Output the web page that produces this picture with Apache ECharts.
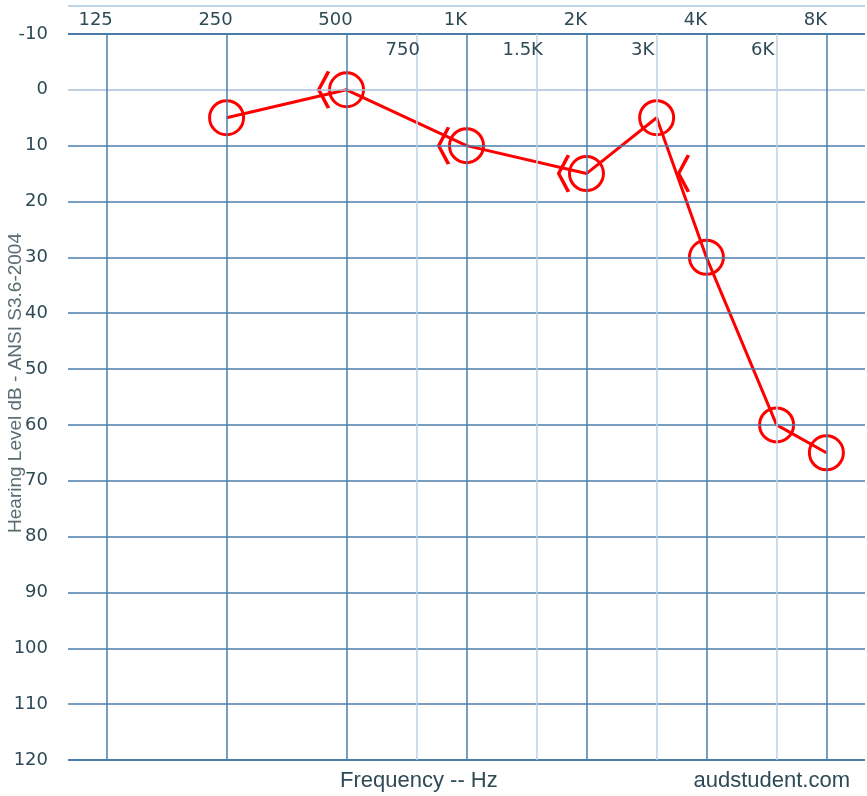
<!DOCTYPE html>
<html>
<head>
<meta charset="utf-8">
<script src="https://cdn.jsdelivr.net/npm/echarts@6/dist/echarts.min.js"></script>
<style>
html,body{margin:0;padding:0;background:#fff;}
#chart{width:867px;height:796px;}
</style>
</head>
<body>
<div id="chart"></div>
<script>
// ---- data ----
const octaveFreqs = [125, 250, 500, 1000, 2000, 4000, 8000];
const octaveLabels = ['125', '250', '500', '1K', '2K', '4K', '8K'];
const midFreqs = [750, 1500, 3000, 6000];
const midLabels = ['750', '1.5K', '3K', '6K'];
const dbLevels = [-10, 0, 10, 20, 30, 40, 50, 60, 70, 80, 90, 100, 110, 120];
const airFreqs = [250, 500, 1000, 2000, 3000, 4000, 6000, 8000];
const airDb = [5, 0, 10, 15, 5, 30, 60, 65];
const boneFreqs = [500, 1000, 2000, 4000];
const boneDb = [0, 10, 15, 15];

// ---- styles ----
const DARK = '#4a7dac';
const LIGHT = '#bcd2e6';
const TEXT = '#2e4a56';
const RED = '#ff0000';

const chart = echarts.init(document.getElementById('chart'), null, {renderer: 'canvas'});

const vLines = [];
octaveFreqs.forEach((f, i) => {
  vLines.push([
    {xAxis: f, yAxis: -10, lineStyle: {color: DARK, width: 1.5, type: 'solid'},
     label: {show: true, position: 'start', formatter: octaveLabels[i], offset: [-11, 0],
             color: TEXT, fontSize: 18, fontFamily: 'DejaVu Sans'}},
    {xAxis: f, yAxis: 120}
  ]);
});
midFreqs.forEach((f, i) => {
  vLines.push([
    {xAxis: f, yAxis: -10, lineStyle: {color: LIGHT, width: 1.5, type: 'solid'},
     label: {show: true, position: 'start', formatter: midLabels[i], offset: [-14, 30],
             color: TEXT, fontSize: 18, fontFamily: 'DejaVu Sans'}},
    {xAxis: f, yAxis: 120}
  ]);
});
const hLines = dbLevels.map(v => ({
  yAxis: v,
  lineStyle: {
    color: v === 0 ? '#aac2d8' : DARK,
    width: (v === -10 || v === 120) ? 2 : 1.5,
    type: 'solid'
  },
  label: {show: false}
}));
hLines.push({yAxis: -15, lineStyle: {color: '#a9c6df', width: 1.5, type: 'solid'}, label: {show: false}});

const option = {
  animation: false,
  backgroundColor: '#fff',
  title: [
    {text: 'Frequency -- Hz', left: 335, top: 765,
     textStyle: {color: TEXT, fontSize: 22, fontWeight: 'normal', fontFamily: 'Liberation Sans'}},
    {text: 'audstudent.com', right: 12, top: 765,
     textStyle: {color: TEXT, fontSize: 22, fontWeight: 'normal', fontFamily: 'Liberation Sans'}}
  ],
  grid: {left: 68, right: 2, top: 6, bottom: 36, containLabel: false, outerBoundsMode: 'none'},
  xAxis: {
    type: 'log', logBase: 10, min: 100, max: 10000,
    axisLine: {show: false}, axisTick: {show: false},
    axisLabel: {show: false}, splitLine: {show: false}, minorSplitLine: {show: false}
  },
  yAxis: {
    type: 'value', inverse: true, min: -15, max: 120, interval: 5,
    name: 'Hearing Level dB - ANSI S3.6-2004',
    nameLocation: 'middle', nameRotate: 90, nameGap: 43, nameMoveOverlap: false,
    nameTextStyle: {color: '#5b6b72', fontSize: 19, fontFamily: 'Liberation Sans'},
    axisLine: {show: false}, axisTick: {show: false}, splitLine: {show: false},
    axisLabel: {
      color: TEXT, fontSize: 18, fontFamily: 'DejaVu Sans', margin: 20,
      formatter: v => (v % 10 === 0 && v >= -10) ? String(v) : ''
    }
  },
  series: [
    {
      type: 'line', data: [], silent: true, symbol: 'none',
      markLine: {silent: true, symbol: ['none', 'none'], animation: false,
                 label: {show: false}, data: hLines.concat(vLines)}
    },
    {
      type: 'scatter', name: 'bone', silent: true,
      data: boneFreqs.map((f, i) => [f, boneDb[i]]),
      symbol: 'path://M10,0 L13.4,1.2 L3.8,19 L13.4,36.8 L10,38 L0,19 Z',
      symbolSize: [13.4, 38], symbolOffset: [-23, 0],
      itemStyle: {color: RED, opacity: 1, borderWidth: 0},
      z: 3
    },
    {
      type: 'line', name: 'air', silent: true,
      data: airFreqs.map((f, i) => [f, airDb[i]]),
      symbol: 'circle', symbolSize: 34,
      lineStyle: {color: RED, width: 3},
      itemStyle: {color: 'rgba(0,0,0,0)', borderColor: RED, borderWidth: 3},
      z: 4
    }
  ]
};
chart.setOption(option);
</script>
</body>
</html>
